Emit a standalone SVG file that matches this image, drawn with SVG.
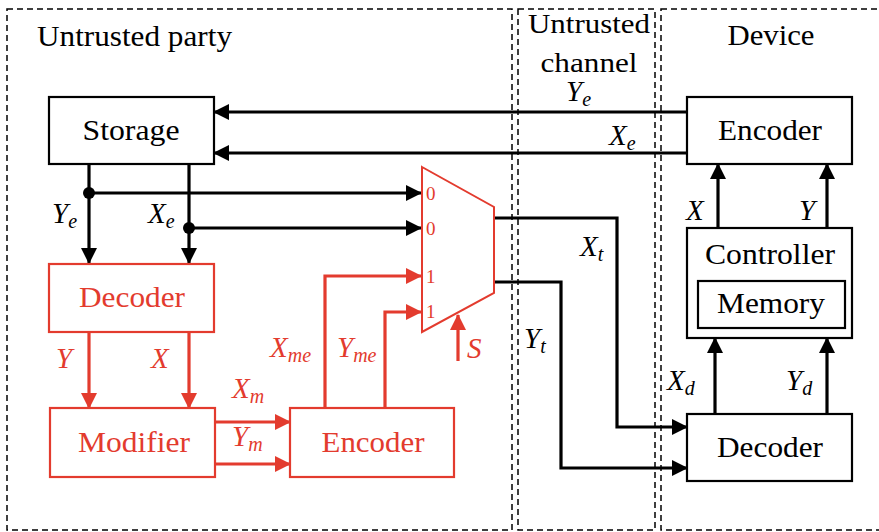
<svg xmlns="http://www.w3.org/2000/svg" width="879" height="532" viewBox="0 0 879 532" font-family="Times New Roman, Tinos, Nimbus Roman, FreeSerif, Noto Serif, Liberation Serif, DejaVu Serif, serif">
<defs>
<marker id="ab" markerUnits="userSpaceOnUse" markerWidth="16" markerHeight="16" refX="15" refY="8" orient="auto"><path d="M0,0 L16,8 L0,16 z" fill="#000"/></marker>
<marker id="ar" markerUnits="userSpaceOnUse" markerWidth="16" markerHeight="16" refX="15" refY="8" orient="auto"><path d="M0,0 L16,8 L0,16 z" fill="#e33b2e"/></marker>
</defs>
<style>
text{font-family:"Times New Roman",Tinos,"Nimbus Roman","FreeSerif","Noto Serif","Liberation Serif","DejaVu Serif",serif;}
.region{fill:none;stroke:#000;stroke-width:1.5;stroke-dasharray:6,4;}
.box{fill:#fff;stroke:#000;stroke-width:2.2;}
.rbox{fill:#fff;stroke:#e33b2e;stroke-width:2.2;}
.t{font-size:30px;fill:#000;text-anchor:middle;}
.rt{font-size:30px;fill:#e33b2e;text-anchor:middle;}
.l{fill:none;stroke:#000;stroke-width:3.2;}
.rl{fill:none;stroke:#e33b2e;stroke-width:3.2;}
.v{font-size:29px;font-style:italic;fill:#000;}
.rv{font-size:29px;font-style:italic;fill:#e33b2e;}
.sub{font-size:20px;}
.d{font-size:19px;fill:#e33b2e;}
</style>
<g id="regions">
<rect class="region" x="7" y="9" width="505" height="521"/>
<rect class="region" x="518" y="9" width="137" height="521"/>
<rect class="region" x="661" y="9" width="225" height="521"/>
<text x="37" y="46" style="font-size:30px" textLength="195" lengthAdjust="spacingAndGlyphs">Untrusted party</text>
<text x="589" y="33" class="t" style="font-size:28px" textLength="122" lengthAdjust="spacingAndGlyphs">Untrusted</text>
<text x="589" y="72" class="t" style="font-size:28px" textLength="97" lengthAdjust="spacingAndGlyphs">channel</text>
<text x="771" y="45" class="t" textLength="87" lengthAdjust="spacingAndGlyphs">Device</text>
</g>
<g id="connectors">
<line class="l" x1="687" y1="112" x2="214" y2="112" marker-end="url(#ab)"/>
<line class="l" x1="687" y1="153" x2="214" y2="153" marker-end="url(#ab)"/>
<line class="l" x1="89" y1="164" x2="89" y2="263" marker-end="url(#ab)"/>
<line class="l" x1="189" y1="164" x2="189" y2="263" marker-end="url(#ab)"/>
<circle cx="89" cy="193" r="6"/>
<circle cx="189" cy="228" r="6"/>
<line class="l" x1="89" y1="193" x2="421" y2="193" marker-end="url(#ab)"/>
<line class="l" x1="189" y1="228" x2="421" y2="228" marker-end="url(#ab)"/>
<line class="rl" x1="89" y1="332" x2="89" y2="408" marker-end="url(#ar)"/>
<line class="rl" x1="189" y1="332" x2="189" y2="408" marker-end="url(#ar)"/>
<line class="rl" x1="215" y1="422" x2="290" y2="422" marker-end="url(#ar)"/>
<line class="rl" x1="215" y1="464" x2="290" y2="464" marker-end="url(#ar)"/>
<polyline class="rl" points="325,408 325,276 421,276" marker-end="url(#ar)"/>
<polyline class="rl" points="385,408 385,312 421,312" marker-end="url(#ar)"/>
<line class="rl" x1="458" y1="361" x2="458" y2="315" marker-end="url(#ar)"/>
<polyline class="l" points="494,218 617,218 617,427 687,427" marker-end="url(#ab)"/>
<polyline class="l" points="494,282 561,282 561,468 687,468" marker-end="url(#ab)"/>
<line class="l" x1="718" y1="228" x2="718" y2="164" marker-end="url(#ab)"/>
<line class="l" x1="827" y1="228" x2="827" y2="164" marker-end="url(#ab)"/>
<line class="l" x1="715" y1="414" x2="715" y2="338" marker-end="url(#ab)"/>
<line class="l" x1="827" y1="414" x2="827" y2="338" marker-end="url(#ab)"/>
<text class="v" x="566" y="101">Y<tspan class="sub" dy="5">e</tspan></text>
<text class="v" x="609" y="145">X<tspan class="sub" dy="5">e</tspan></text>
<text class="v" x="52" y="223">Y<tspan class="sub" dy="5">e</tspan></text>
<text class="v" x="148" y="223">X<tspan class="sub" dy="5">e</tspan></text>
<text class="rv" x="56" y="368">Y</text>
<text class="rv" x="151" y="368">X</text>
<text class="rv" x="232" y="398">X<tspan class="sub" dy="5">m</tspan></text>
<text class="rv" x="232" y="446">Y<tspan class="sub" dy="5">m</tspan></text>
<text class="rv" x="270" y="357">X<tspan class="sub" dy="5">me</tspan></text>
<text class="rv" x="337" y="357">Y<tspan class="sub" dy="5">me</tspan></text>
<text class="rv" x="467" y="358">S</text>
<text class="v" x="580" y="256">X<tspan class="sub" dy="5">t</tspan></text>
<text class="v" x="524" y="348">Y<tspan class="sub" dy="5">t</tspan></text>
<text class="v" x="686" y="220">X</text>
<text class="v" x="799" y="220">Y</text>
<text class="v" x="667" y="390">X<tspan class="sub" dy="5">d</tspan></text>
<text class="v" x="786" y="390">Y<tspan class="sub" dy="5">d</tspan></text>
</g>
<g id="storage">
<rect class="box" x="49" y="97" width="165" height="67"/>
<text class="t" x="131" y="140" textLength="97" lengthAdjust="spacingAndGlyphs">Storage</text>
</g>
<g id="mux">
<polygon points="422,167 494,207 494,293 422,332" fill="#fff" stroke="#e33b2e" stroke-width="2"/>
<text class="d" x="426" y="200">0</text>
<text class="d" x="426" y="235">0</text>
<text class="d" x="426" y="283">1</text>
<text class="d" x="426" y="318">1</text>
</g>
<g id="decoder-red">
<rect class="rbox" x="49" y="264" width="165" height="68"/>
<text class="rt" x="132" y="307" textLength="106" lengthAdjust="spacingAndGlyphs">Decoder</text>
</g>
<g id="modifier">
<rect class="rbox" x="50" y="408" width="165" height="69"/>
<text class="rt" x="134" y="452" textLength="112" lengthAdjust="spacingAndGlyphs">Modifier</text>
</g>
<g id="encoder-red">
<rect class="rbox" x="290" y="408" width="164" height="69"/>
<text class="rt" x="373" y="452" textLength="103" lengthAdjust="spacingAndGlyphs">Encoder</text>
</g>
<g id="encoder-device">
<rect class="box" x="687" y="97" width="165" height="67"/>
<text class="t" x="770" y="140" textLength="104" lengthAdjust="spacingAndGlyphs">Encoder</text>
</g>
<g id="controller">
<rect class="box" x="687" y="228" width="165" height="110"/>
<text class="t" x="770" y="264" textLength="130" lengthAdjust="spacingAndGlyphs">Controller</text>
<g id="memory">
<rect class="box" x="698" y="281" width="147" height="47"/>
<text class="t" x="771" y="313" textLength="108" lengthAdjust="spacingAndGlyphs">Memory</text>
</g>
</g>
<g id="decoder-device">
<rect class="box" x="687" y="414" width="165" height="67"/>
<text class="t" x="770" y="457" textLength="106" lengthAdjust="spacingAndGlyphs">Decoder</text>
</g>
</svg>
